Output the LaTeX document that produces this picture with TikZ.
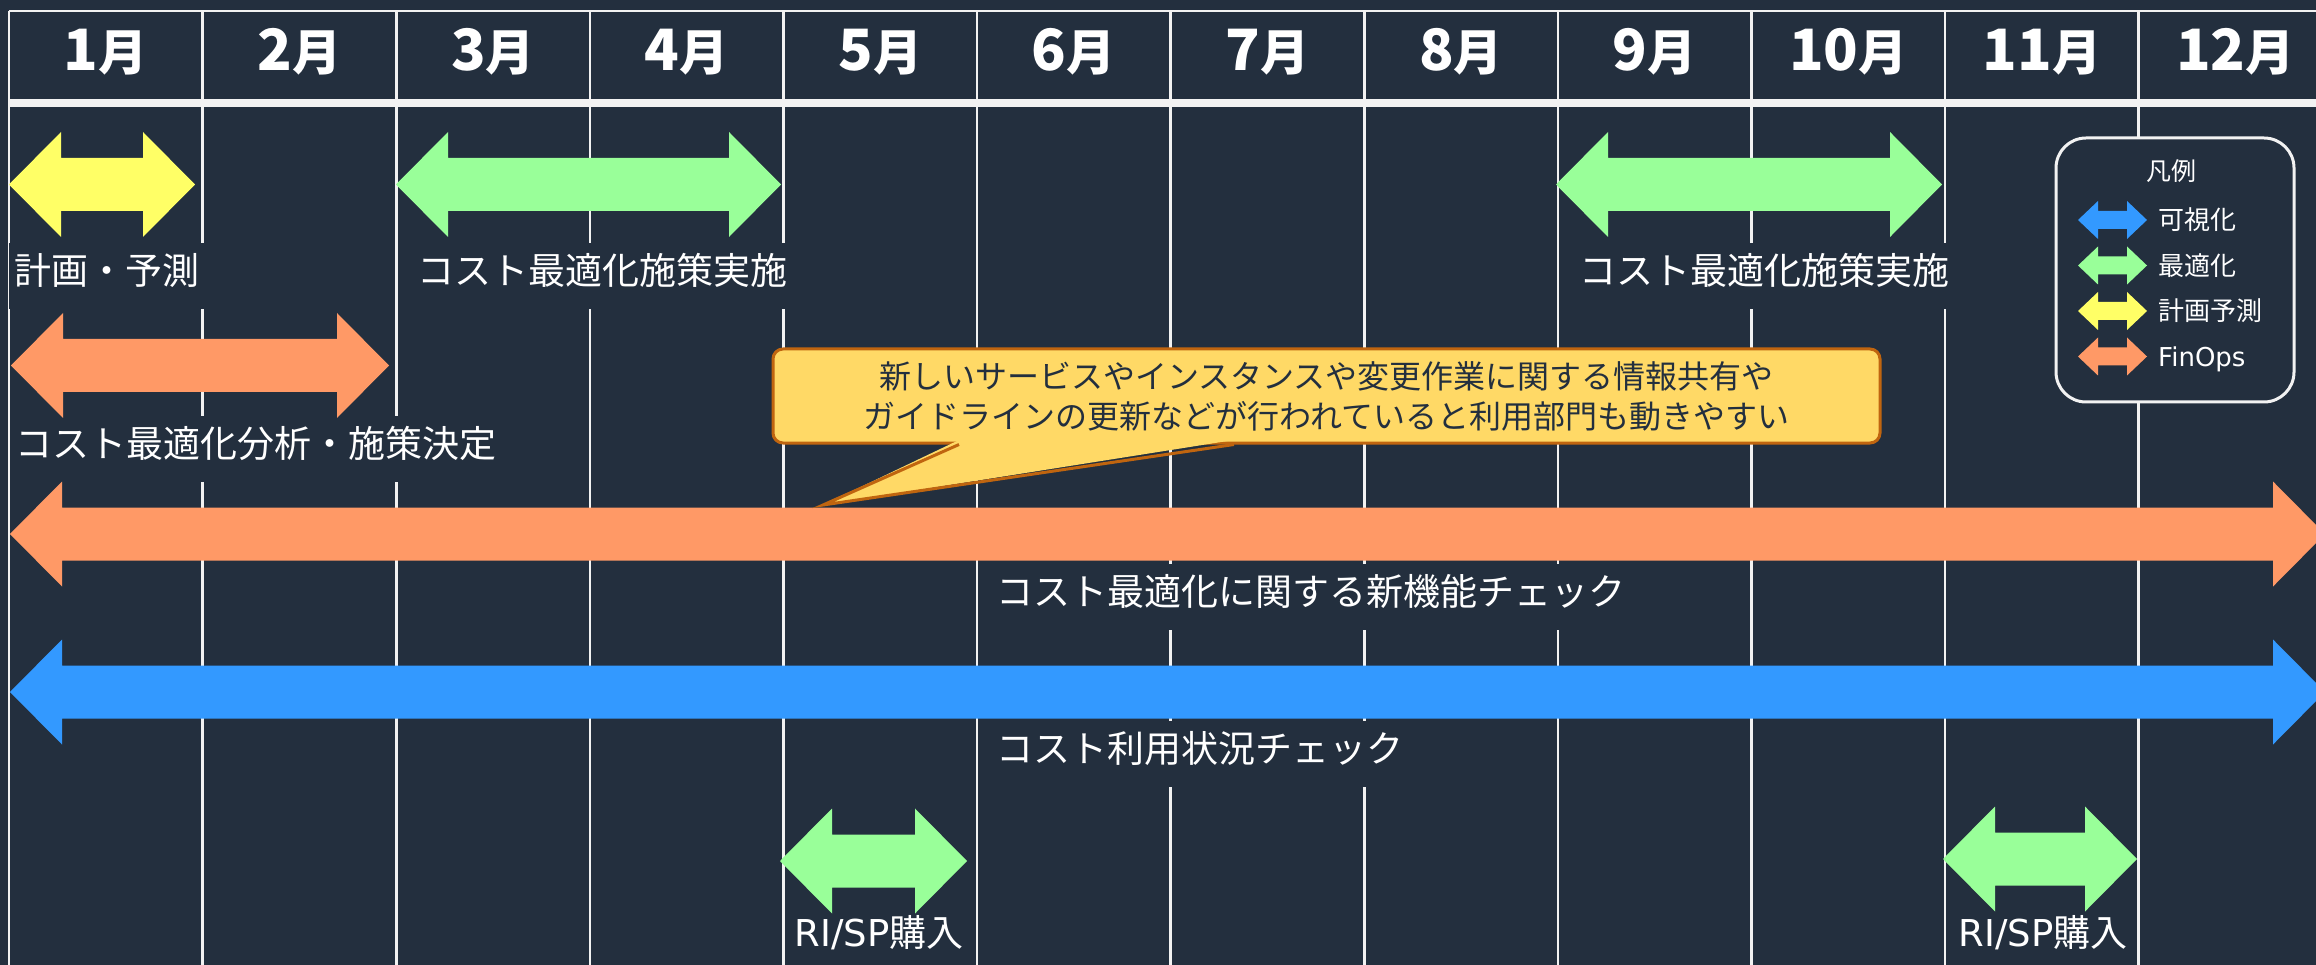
\documentclass[tikz,border=0pt]{standalone}
\usepackage{fontspec}
\setmainfont{Noto Sans CJK JP}
\newfontfamily\latf{DejaVu Sans}
\definecolor{bg}{HTML}{232F3E}
\definecolor{gridc}{HTML}{F2F2F2}
\definecolor{ayellow}{HTML}{FFFF66}
\definecolor{agreen}{HTML}{99FF99}
\definecolor{aorange}{HTML}{FF9966}
\definecolor{ablue}{HTML}{3399FF}
\definecolor{callfill}{HTML}{FFD966}
\definecolor{callline}{HTML}{C0650F}
% #1 colour, #2 left tip x, #3 right tip x, #4 centre y, #5 head length, #6 head half height, #7 shaft half height
\newcommand\DArrow[7]{%
  \fill[#1] (#2,#4) -- ({#2+#5},{#4-#6}) -- ({#2+#5},{#4-#7}) -- ({#3-#5},{#4-#7}) -- ({#3-#5},{#4-#6})
    -- (#3,#4) -- ({#3-#5},{#4+#6}) -- ({#3-#5},{#4+#7}) -- ({#2+#5},{#4+#7}) -- ({#2+#5},{#4+#6}) -- cycle;}
\newcommand\BigArrow[4]{\DArrow{#1}{#2}{#3}{#4}{52}{52.5}{26.5}}
\tikzset{
  gridline/.style={draw=gridc, line width=2.6},
  month/.style={anchor=base, text=white, font=\bfseries\fontsize{49}{54}\selectfont, inner sep=0},
  lbl/.style={fill=bg, text=white, font=\fontsize{37}{44}\selectfont, inner xsep=5, inner ysep=14.5,
              text height=27, text depth=10},
  lblw/.style={lbl, anchor=base west},
  lblc/.style={lbl, anchor=base},
  legendbox/.style={draw=gridc, line width=3, fill=bg, rounded corners=30, minimum width=238, minimum height=264},
  legtitle/.style={anchor=base, text=white, font=\fontsize{25}{30}\selectfont, inner sep=0},
  legitem/.style={anchor=base west, text=white, font=\fontsize{26}{30}\selectfont, inner sep=0},
  callbox/.style={fill=callfill, draw=callline, line width=3, rounded corners=10,
                  minimum width=1107, minimum height=94, align=center, text=bg,
                  font=\fontsize{32}{40}\selectfont, inner sep=0},
}
\begin{document}
\begin{tikzpicture}[x=1pt, y=-1pt]
\useasboundingbox (0,0) rectangle (2316,965);
\fill[bg] (0,0) rectangle (2316,965);

% grid
\foreach \k in {0,...,11}
  \draw[gridline] ({9+193.6*\k},11) -- ({9+193.6*\k},965);
\draw[gridline] (9,11) -- (2316,11);
\draw[gridc, line width=8] (9,103) -- (2316,103);

% month headings
\foreach \m [count=\i from 0] in {1,...,12}
  \node[month] (m\m) at ({9+193.6*\i+96.8},71) {{\fontsize{57}{57}\selectfont\m}月};

% labels
\node[lblw] (lplan) at (9,284.5) {計画・予測};
\node[lblc] (lopt1) at (602,284.5) {コスト最適化施策実施};
\node[lblc] (lopt2) at (1764,284.5) {コスト最適化施策実施};
\node[lblw] (lana) at (10,457.5) {コスト最適化分析・施策決定};
\node[lblw] (lnew) at (991,605.5) {コスト最適化に関する新機能チェック};
\node[lblw] (luse) at (991,762.5) {コスト利用状況チェック};
\node[lblc] (lri1) at (879,946) {{\latf RI/SP}購入};
\node[lblc] (lri2) at (2043,946) {{\latf RI/SP}購入};

% arrows
\BigArrow{ayellow}{9}{195}{184.5}
\BigArrow{agreen}{396}{781}{184.5}
\BigArrow{agreen}{1556}{1942}{184.5}
\BigArrow{aorange}{11}{389}{365.5}
\BigArrow{aorange}{10}{2325}{534}
\BigArrow{ablue}{10}{2325}{692}
\BigArrow{agreen}{780}{967}{861}
\BigArrow{agreen}{1943}{2137}{859}

% callout
\node[callbox] (call) at (1326.5,396)
  {新しいサービスやインスタンスや変更作業に関する情報共有や\\ガイドラインの更新などが行われていると利用部門も動きやすい};
\coordinate (tip) at (823,505);
\fill[callfill] (959,440) -- (tip) -- (1234,440) -- cycle;
\draw[callline, line width=3, line join=miter] (959,444.5) -- (tip) -- (1234,444.5);

% legend
\node[legendbox] (legend) at (2175,270) {};
\node[legtitle] (legt) at (2171,181) {凡例};
\DArrow{ablue}{2078}{2147}{220}{20}{19}{9}
\DArrow{agreen}{2078}{2147}{265.5}{20}{19}{9}
\DArrow{ayellow}{2078}{2147}{311}{20}{19}{9}
\DArrow{aorange}{2078}{2147}{356.5}{20}{19}{9}
\node[legitem] (lg1) at (2158,230) {可視化};
\node[legitem] (lg2) at (2158,275.5) {最適化};
\node[legitem] (lg3) at (2158,321) {計画予測};
\node[legitem] (lg4) at (2158,366.5) {\latf FinOps};
\end{tikzpicture}
\end{document}
